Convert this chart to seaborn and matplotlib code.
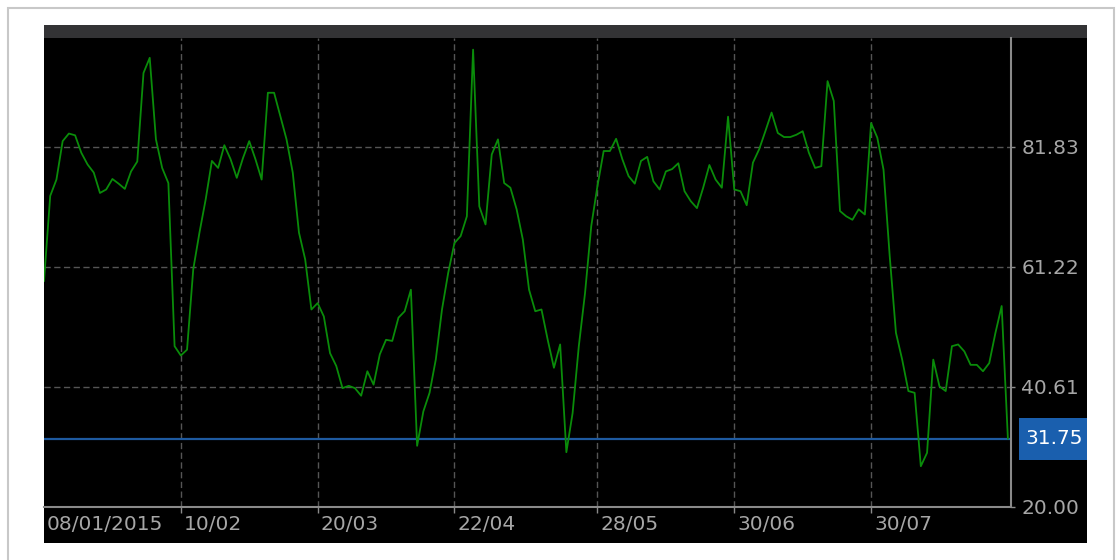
import numpy as np
import pandas as pd
import seaborn as sns
import matplotlib.pyplot as plt
from matplotlib.patches import Rectangle
from matplotlib.transforms import ScaledTranslation, blended_transform_factory

# Oscillator values, one per bar (left to right)
rsi = [58.8, 73.4, 76.2, 82.8, 84.1, 83.8, 80.8, 78.8, 77.4, 73.9,
       74.5, 76.3, 75.5, 74.6, 77.6, 79.3, 94.5, 97.1, 83.1, 78.2,
       75.6, 47.6, 46.0, 47.0, 60.8, 67.1, 72.8, 79.4, 78.2, 82.1,
       79.7, 76.5, 79.9, 82.8, 79.7, 76.2, 91.1, 91.1, 87.1, 83.1,
       77.4, 67.1, 62.5, 53.9, 55.0, 52.7, 46.4, 44.2, 40.4, 40.8,
       40.4, 39.1, 43.3, 41.0, 46.2, 48.7, 48.5, 52.5, 53.6, 57.3,
       30.5, 36.4, 39.6, 45.3, 53.9, 60.2, 65.3, 66.5, 69.9, 98.5,
       71.6, 68.5, 80.5, 83.1, 75.6, 74.8, 71.1, 65.9, 57.3, 53.6,
       53.9, 48.7, 43.9, 47.9, 29.4, 36.1, 47.6, 56.7, 68.2, 75.1,
       81.1, 81.1, 83.2, 79.7, 76.8, 75.5, 79.4, 80.1, 75.9, 74.5,
       77.6, 78.0, 79.0, 74.2, 72.5, 71.3, 74.8, 78.7, 76.2, 74.8,
       87.0, 74.5, 74.2, 71.8, 79.1, 81.4, 84.5, 87.7, 84.2, 83.5,
       83.5, 83.9, 84.5, 80.8, 78.2, 78.5, 93.1, 89.7, 70.8, 69.9,
       69.3, 71.1, 70.2, 85.9, 83.4, 77.9, 63.0, 49.9, 45.3, 39.9,
       39.6, 27.0, 29.3, 45.3, 40.7, 39.9, 47.6, 47.9, 46.7, 44.4,
       44.4, 43.3, 44.7, 49.9, 54.5, 31.75]

# date labels and the bar index where each one sits
tick_idx = [0, 22, 44, 66, 89, 111, 133]
tick_labels = ["08/01/2015", "10/02", "20/03", "22/04", "28/05", "30/06", "30/07"]

y_ticks = [20.00, 40.61, 61.22, 81.83]
last_value = 31.75

df = pd.DataFrame({"bar": np.arange(len(rsi)), "value": rsi})

plt.rcParams['font.family'] = ['DejaVu Sans']
W, H = 1120, 560
fig = plt.figure(figsize=(11.2, 5.6), dpi=100)

# outer frame, black panel and the dark strip on top
fig.add_artist(Rectangle((8 / W, -0.02), 1106 / W, 1 - 8 / H + 0.02, transform=fig.transFigure,
                         facecolor='white', edgecolor='#c8c8c8', lw=1.5, zorder=-10))
fig.add_artist(Rectangle((44 / W, 1 - 543 / H), 1043 / W, 518 / H, transform=fig.transFigure,
                         facecolor='black', edgecolor='none', zorder=-9))
fig.add_artist(Rectangle((44 / W, 1 - 38 / H), 1043 / W, 13 / H, transform=fig.transFigure,
                         facecolor='#333335', edgecolor='none', zorder=-8))

ax = fig.add_axes([44 / W, 1 - 507 / H, 967 / W, 469 / H])
ax.set_facecolor('black')

grid_style = dict(color='#555555', lw=1.0, ls=(0, (4.5, 2.5)), zorder=1)
for y in y_ticks[1:]:
    ax.axhline(y, **grid_style)
for x in tick_idx[1:]:
    ax.axvline(x, **grid_style)

ax.axhline(last_value, color='#1e5aa0', lw=1.6, zorder=2)
sns.lineplot(data=df, x="bar", y="value", ax=ax, color='#0a8c0a', linewidth=1.3, zorder=3)

ax.set_xlim(0, 155.5)
ax.set_ylim(20, 100.5)
ax.set_xlabel("")
ax.set_ylabel("")

for s in ['top', 'left']:
    ax.spines[s].set_visible(False)
for s in ['bottom', 'right']:
    ax.spines[s].set_color('#8a8a8a')
    ax.spines[s].set_linewidth(1.5)

ax.yaxis.tick_right()
ax.set_yticks(y_ticks)
ax.set_yticklabels([f"{v:.2f}" for v in y_ticks])
ax.tick_params(axis='y', length=3, width=1, color='#8a8a8a', pad=4.5,
               labelcolor='#a6a6a6', labelsize=14.5)

ax.set_xticks(tick_idx)
ax.set_xticklabels(tick_labels)
ax.tick_params(axis='x', length=4.5, width=1, color='#8a8a8a', pad=1,
               labelcolor='#a6a6a6', labelsize=14.5)
ax.xaxis.get_major_ticks()[0].tick1line.set_visible(False)
shift = ScaledTranslation(0.03, 0, fig.dpi_scale_trans)
for lab in ax.get_xticklabels():
    lab.set_ha('left')
    lab.set_transform(lab.get_transform() + shift)

# last value badge on the right axis
trans = blended_transform_factory(ax.transAxes, ax.transData)
ax.add_patch(Rectangle((975 / 967, last_value - 3.6), 68 / 967, 7.2, transform=trans,
                       facecolor='#1a5fae', edgecolor='none', clip_on=False, zorder=5))
ax.text(981 / 967, last_value, f"{last_value:.2f}", transform=trans, color='white',
        fontsize=14.5, va='center', ha='left', zorder=6, clip_on=False)

fig.savefig("out.png", dpi=100, facecolor='white')
